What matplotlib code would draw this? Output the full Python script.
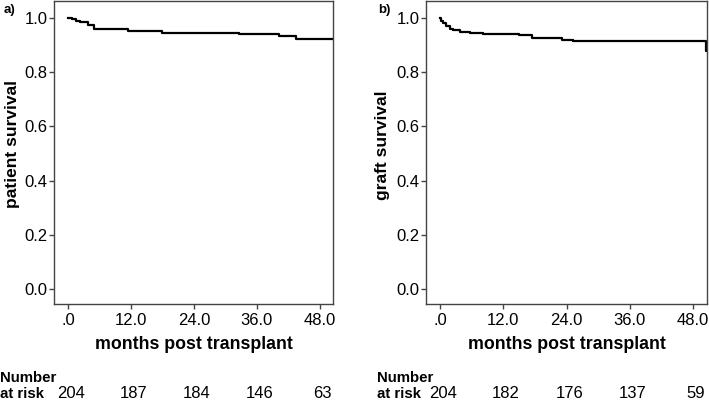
import matplotlib
matplotlib.use("Agg")
import matplotlib.pyplot as plt
from matplotlib.transforms import blended_transform_factory

plt.rcParams['font.family'] = ['Liberation Sans', 'DejaVu Sans']

# Panel a: patient survival (Kaplan-Meier steps)
a_times = [0, 0.7, 1.6, 2.3, 3.9, 5.0, 11.5, 18.0, 32.6, 40.3, 43.4, 50.5]
a_surv = [1.0, 0.996, 0.990, 0.985, 0.975, 0.958, 0.952, 0.946, 0.941, 0.935, 0.923, 0.923]

# Panel b: graft survival
b_times = [0, 0.15, 0.6, 1.2, 1.9, 2.5, 3.8, 5.7, 8.2, 14.9, 17.5, 23.2, 25.3, 50.5, 50.66]
b_surv = [1.0, 0.990, 0.980, 0.972, 0.960, 0.955, 0.949, 0.944, 0.942, 0.937, 0.925, 0.920, 0.915, 0.879, 0.879]

x_ticks = [0, 12, 24, 36, 48]
x_ticklabels = ['.0', '12.0', '24.0', '36.0', '48.0']
y_ticks = [0.0, 0.2, 0.4, 0.6, 0.8, 1.0]

a_risk = [204, 187, 184, 146, 63]
b_risk = [204, 182, 176, 137, 59]

W, H = 709, 400
fig = plt.figure(figsize=(W / 100, H / 100), dpi=100)

def fx(px):
    return px / W

def fy(py):
    return 1 - py / H

panels = [
    dict(left=54, right=333, times=a_times, surv=a_surv, xmax=50.5, risk=a_risk,
         label='patient survival', tag='a)', tagx=4, numx=0, ylx=12.5, yly=143.5),
    dict(left=426, right=707, times=b_times, surv=b_surv, xmax=50.66, risk=b_risk,
         label='graft survival', tag='b)', tagx=378, numx=377, ylx=382.5, yly=145),
]

frame_color = '#444444'
top_px, bottom_px = 1, 304

for p in panels:
    ax = fig.add_axes([fx(p['left']), fy(bottom_px), (p['right'] - p['left']) / W,
                       (bottom_px - top_px) / H])
    ax.step(p['times'], p['surv'], where='post', color='black', lw=1.6)
    ax.set_xlim(-2.66, p['xmax'])
    ax.set_ylim(-0.055, 1.0625)
    ax.set_xticks(x_ticks)
    ax.set_xticklabels(x_ticklabels)
    ax.set_yticks(y_ticks)
    ax.set_yticklabels(['%.1f' % v for v in y_ticks])
    for s in ax.spines.values():
        s.set_color(frame_color)
        s.set_linewidth(1.0)
    ax.tick_params(axis='both', direction='out', length=3.5, width=1.0, color=frame_color,
                   labelsize=12, labelcolor='black')
    ax.tick_params(axis='x', pad=3)
    ax.tick_params(axis='y', pad=1)

    # y label
    fig.text(fx(p['ylx']), fy(p['yly']), p['label'], rotation=90, ha='center', va='center',
             fontsize=12.5, fontweight='bold')
    # x label
    fig.text(fx((p['left'] + p['right']) / 2), fy(349), 'months post transplant',
             ha='center', va='baseline', fontsize=12.8, fontweight='bold')
    # panel tag
    fig.text(fx(p['tagx']), fy(12.5), p['tag'], ha='left', va='baseline', fontsize=9.5,
             fontweight='bold')
    # number at risk
    fig.text(fx(p['numx']), fy(382), 'Number',
             ha='left', va='baseline', fontsize=10.8, fontweight='bold')
    fig.text(fx(p['numx']), fy(398.5), 'at risk',
             ha='left', va='baseline', fontsize=10.8, fontweight='bold')
    trans = blended_transform_factory(ax.transData, fig.transFigure)
    for t, n in zip(x_ticks, p['risk']):
        ax.text(t + 0.5, fy(398.5), str(n), transform=trans, ha='center', va='baseline',
                fontsize=12, clip_on=False)

fig.savefig('out.png', dpi=100)
